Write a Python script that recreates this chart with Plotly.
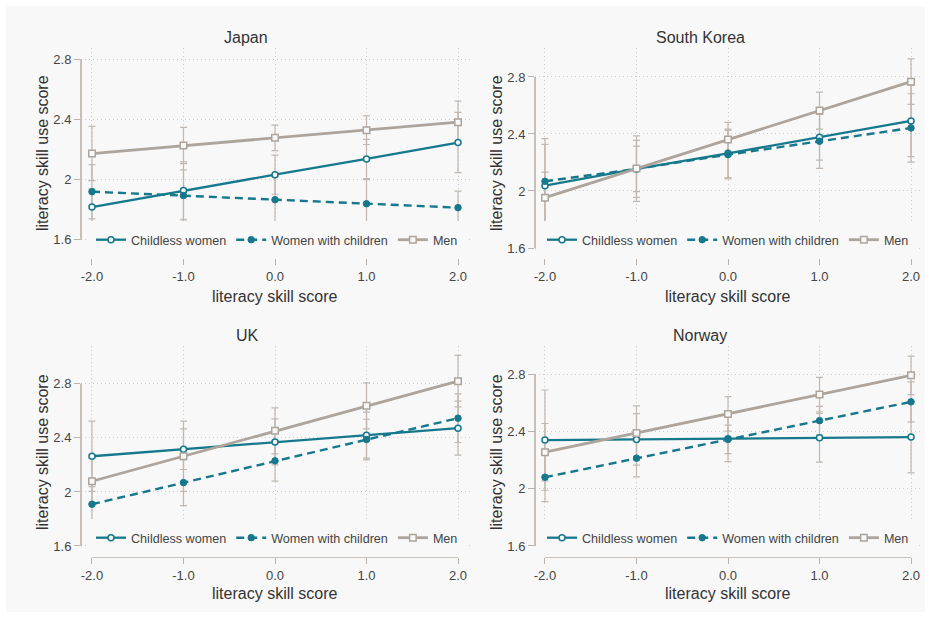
import plotly.graph_objects as go

# ---------------- data ----------------
x_vals = [-2, -1, 0, 1, 2]
x_ticktext = ["-2.0", "-1.0", "0.0", "1.0", "2.0"]
y_tickvals = [1.6, 2.0, 2.4, 2.8]
y_ticktext = ["1.6", "2", "2.4", "2.8"]
countries = ["Japan", "South Korea", "UK", "Norway"]
series_names = ["Childless women", "Women with children", "Men"]
x_title = "literacy skill score"
y_title = "literacy skill use score"

japan_childless = [1.818, 1.927, 2.033, 2.137, 2.246]
japan_childless_ci = [0.12, 0.19, 0.13, 0.13, 0.20]
japan_mothers = [1.920, 1.894, 1.867, 1.840, 1.814]
japan_mothers_ci = [0.18, 0.17, 0.15, 0.16, 0.11]
japan_men = [2.173, 2.226, 2.277, 2.328, 2.381]
japan_men_ci = [0.18, 0.12, 0.085, 0.095, 0.14]

korea_childless = [2.037, 2.155, 2.264, 2.377, 2.491]
korea_childless_ci = [0.29, 0.16, 0.17, 0.16, 0.25]
korea_mothers = [2.068, 2.155, 2.255, 2.349, 2.442]
korea_mothers_ci = [0.30, 0.20, 0.17, 0.19, 0.24]
korea_men = [1.953, 2.157, 2.362, 2.564, 2.767]
korea_men_ci = [0.18, 0.23, 0.12, 0.13, 0.16]

uk_childless = [2.264, 2.316, 2.370, 2.420, 2.472]
uk_childless_ci = [0.26, 0.15, 0.17, 0.17, 0.20]
uk_mothers = [1.909, 2.069, 2.230, 2.388, 2.546]
uk_mothers_ci = [0.13, 0.17, 0.15, 0.15, 0.18]
uk_men = [2.079, 2.264, 2.452, 2.637, 2.820]
uk_men_ci = [0.17, 0.26, 0.17, 0.17, 0.19]

norway_childless = [2.339, 2.344, 2.349, 2.356, 2.360]
norway_childless_ci = [0.35, 0.18, 0.16, 0.17, 0.25]
norway_mothers = [2.080, 2.213, 2.344, 2.475, 2.606]
norway_mothers_ci = [0.17, 0.13, 0.10, 0.10, 0.14]
norway_men = [2.255, 2.388, 2.522, 2.657, 2.791]
norway_men_ci = [0.20, 0.19, 0.12, 0.12, 0.135]

country_series = {
    "Japan": [(japan_childless, japan_childless_ci), (japan_mothers, japan_mothers_ci), (japan_men, japan_men_ci)],
    "South Korea": [(korea_childless, korea_childless_ci), (korea_mothers, korea_mothers_ci), (korea_men, korea_men_ci)],
    "UK": [(uk_childless, uk_childless_ci), (uk_mothers, uk_mothers_ci), (uk_men, uk_men_ci)],
    "Norway": [(norway_childless, norway_childless_ci), (norway_mothers, norway_mothers_ci), (norway_men, norway_men_ci)],
}

# ---------------- styling / layout ----------------
BG = "#f8f8f8"
TEAL = "#16788c"
GREY = "#ada49c"
ERR = "#c0b8b1"
AXIS = "#b9b1aa"
GRID = "#cdcdcd"
TXT = "#333333"
FONT = "Liberation Sans, Arial, sans-serif"
W, H = 931, 623

styles = [
    dict(color=TEAL, dash="solid", width=2.3, symbol="circle-open", msize=6, lw=1.5),
    dict(color=TEAL, dash="8px,5px", width=2.4, symbol="circle", msize=6.5, lw=1),
    dict(color=GREY, dash="solid", width=2.8, symbol="square-open", msize=6.5, lw=1.5),
]

# pixel boxes of each plot region and its axis ranges
panels = {
    "Japan": dict(px=(81, 470), py=(48, 258), xr=(-2.12, 2.131), yr=(1.48, 2.873),
                  title=(246, 37), xt=(274, 296), yt=(42, 153), leg=(87, 240)),
    "South Korea": dict(px=(535, 920), py=(48, 258), xr=(-2.109, 2.098), yr=(1.53, 3.003),
                        title=(700, 37), xt=(727, 296), yt=(496, 153), leg=(538, 240)),
    "UK": dict(px=(81, 470), py=(346, 557), xr=(-2.12, 2.131), yr=(1.5185, 3.08),
               title=(247, 335), xt=(274, 593), yt=(42, 452), leg=(87, 538)),
    "Norway": dict(px=(535, 920), py=(346, 557), xr=(-2.109, 2.098), yr=(1.523, 2.996),
                   title=(700, 335), xt=(727, 593), yt=(496, 452), leg=(538, 538)),
}

fig = go.Figure()
layout = dict(
    width=W, height=H, margin=dict(l=0, r=0, t=0, b=0),
    paper_bgcolor="#ffffff", plot_bgcolor=BG,
    font=dict(family=FONT, color=TXT),
    showlegend=True,
    annotations=[],
    shapes=[dict(type="rect", xref="paper", yref="paper", x0=6 / W, x1=925 / W,
                 y0=1 - 612 / H, y1=1 - 6 / H, fillcolor=BG, line=dict(width=0), layer="below")],
)

for i, country in enumerate(countries):
    p = panels[country]
    n = "" if i == 0 else str(i + 1)
    xa, ya = "x" + n, "y" + n
    leg = "legend" + n

    # error bars first (beneath all lines)
    for (vals, ci) in country_series[country]:
        fig.add_trace(go.Scatter(
            x=x_vals, y=vals, xaxis=xa, yaxis=ya, mode="markers",
            marker=dict(size=1, color="rgba(0,0,0,0)"),
            error_y=dict(type="data", array=ci, visible=True, color=ERR, thickness=1.2, width=3.5),
            showlegend=False, hoverinfo="skip",
        ))
    for s, (name, (vals, ci)) in enumerate(zip(series_names, country_series[country])):
        st = styles[s]
        fill = BG if "open" in st["symbol"] else st["color"]
        fig.add_trace(go.Scatter(
            x=x_vals, y=vals, xaxis=xa, yaxis=ya, mode="lines+markers", name=name,
            line=dict(color=st["color"], dash=st["dash"], width=st["width"]),
            marker=dict(symbol=st["symbol"].replace("-open", ""), size=st["msize"],
                        color=fill, line=dict(color=st["color"], width=st["lw"])),
            legend=leg, showlegend=True,
        ))

    x0, x1 = p["px"]
    t, b = p["py"]
    common = dict(ticks="outside", ticklen=6, tickwidth=1.2, tickcolor=AXIS,
                  showline=False, zeroline=False, showgrid=True, gridcolor=GRID,
                  griddash="1px,3px", gridwidth=1, tickfont=dict(size=13, color="#444"),
                  fixedrange=True)
    layout["xaxis" + n] = dict(domain=[x0 / W, x1 / W], range=list(p["xr"]), anchor=ya,
                               tickvals=x_vals, ticktext=x_ticktext, **common)
    layout["yaxis" + n] = dict(domain=[1 - b / H, 1 - t / H], range=list(p["yr"]), anchor=xa,
                               tickvals=y_tickvals, ticktext=y_ticktext, **common)
    # offset axis lines spanning the tick range only
    layout["shapes"].append(dict(type="line", xref=xa, yref=ya + " domain",
                                 x0=x_vals[0], x1=x_vals[-1], y0=0, y1=0,
                                 line=dict(color=AXIS, width=1.6), layer="above"))
    layout["shapes"].append(dict(type="line", xref=xa + " domain", yref=ya,
                                 x0=0, x1=0, y0=min(y_tickvals), y1=max(y_tickvals),
                                 line=dict(color=AXIS, width=1.6), layer="above"))
    # titles
    layout["annotations"].append(dict(text=country, xref="paper", yref="paper",
                                      x=p["title"][0] / W, y=1 - p["title"][1] / H,
                                      showarrow=False, font=dict(size=16, color=TXT),
                                      xanchor="center", yanchor="middle"))
    layout["annotations"].append(dict(text=x_title, xref="paper", yref="paper",
                                      x=p["xt"][0] / W, y=1 - p["xt"][1] / H,
                                      showarrow=False, font=dict(size=16, color=TXT),
                                      xanchor="center", yanchor="middle"))
    layout["annotations"].append(dict(text=y_title, xref="paper", yref="paper",
                                      x=p["yt"][0] / W, y=1 - p["yt"][1] / H, textangle=-90,
                                      showarrow=False, font=dict(size=16, color=TXT),
                                      xanchor="center", yanchor="middle"))
    layout[leg] = dict(
        orientation="h", x=p["leg"][0] / W, y=1 - p["leg"][1] / H,
        xanchor="left", yanchor="middle", bgcolor=BG, bordercolor=BG, borderwidth=4,
        font=dict(size=12.6, color="#444"), itemclick=False, itemdoubleclick=False,
    )

fig.update_layout(**layout)
fig.write_html("out.html", config={"displayModeBar": False},
               post_script="document.body.style.margin='0';")
